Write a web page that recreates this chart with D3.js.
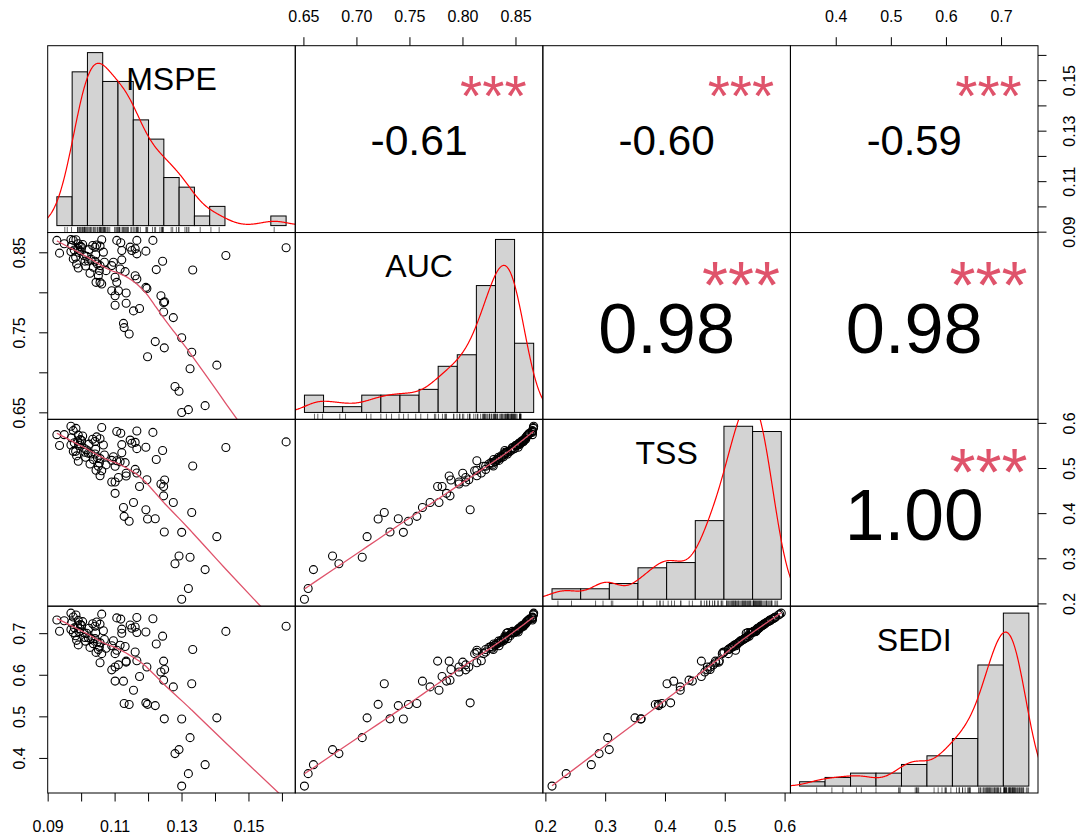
<!DOCTYPE html>
<html>
<head>
<meta charset="UTF-8">
<style>
  body { margin: 0; background: #fff; }
  svg { display: block; font-family: "Liberation Sans", Arial, Helvetica, sans-serif; }
</style>
</head>
<body>
<svg id="chart"></svg>
<script src="https://d3js.org/d3.v7.min.js"></script>
<script>
const width = 1081, height = 840;

const varNames = ["MSPE", "AUC", "TSS", "SEDI"];

// one value per model run, same order in every array
const mspe = [0.1299, 0.1319, 0.1369, 0.1291, 0.1279, 0.1324, 0.1404, 0.1197, 0.1329, 0.1247,
  0.1220, 0.1299, 0.1142, 0.1127, 0.1125, 0.1274, 0.1245, 0.1155, 0.1173, 0.1100,
  0.1133, 0.1245, 0.1248, 0.1237, 0.1100, 0.1133, 0.1090, 0.1110, 0.1192, 0.1195,
  0.1060, 0.1055, 0.1043, 0.1105, 0.1165, 0.1100,
  0.1160, 0.1050, 0.1053, 0.1073, 0.1115, 0.1223, 0.1332, 0.1055, 0.1090, 0.1095,
  0.1068, 0.1047, 0.0985, 0.1040, 0.1020, 0.1010, 0.1242, 0.1025, 0.1035, 0.1012,
  0.0990, 0.1130,
  0.1120, 0.0975, 0.1007, 0.1431, 0.1165, 0.0934, 0.1065, 0.0968, 0.1192, 0.0995,
  0.1120, 0.1150, 0.1160, 0.1000, 0.1040, 0.1145, 0.1611, 0.1055, 0.0970, 0.1033,
  0.1045, 0.1028, 0.0982, 0.1015, 0.1042, 0.0992, 0.0978, 0.1022, 0.0988, 0.0996,
  0.1003, 0.0948, 0.0990, 0.1117, 0.0926, 0.0975, 0.1105, 0.1165, 0.1213, 0.0983,
  0.1060, 0.0968];
const auc = [0.6505, 0.6540, 0.6590, 0.6770, 0.6830, 0.7050, 0.7096, 0.7200, 0.7258, 0.7312,
  0.7390, 0.7438, 0.7486, 0.7565, 0.7618, 0.7690, 0.7761, 0.7774, 0.7803, 0.7845,
  0.7870, 0.7878, 0.7887, 0.7963, 0.7963, 0.7998, 0.8026, 0.8026, 0.8068, 0.8055,
  0.8110, 0.8131, 0.8131, 0.8131, 0.8173, 0.8194,
  0.8214, 0.8214, 0.8277, 0.8277, 0.8298, 0.8290, 0.8286, 0.8340, 0.8340, 0.8382,
  0.8382, 0.8361, 0.8361, 0.8395, 0.8398, 0.8396, 0.8395, 0.8245, 0.8320, 0.8335,
  0.8310, 0.8265,
  0.8412, 0.8424, 0.8466, 0.8466, 0.8487, 0.8496, 0.8508, 0.8517, 0.8521, 0.8529,
  0.8529, 0.8529, 0.8550, 0.8571, 0.8571, 0.8571, 0.8563, 0.8584, 0.8592, 0.8592,
  0.8598, 0.8420, 0.8445, 0.8455, 0.8475, 0.8505, 0.8535, 0.8540, 0.8555, 0.8580,
  0.8603, 0.8613, 0.8613, 0.8626, 0.8655, 0.8655, 0.8655, 0.8655, 0.8655, 0.8664,
  0.8664, 0.8667];
const tss = [0.2103, 0.2340, 0.2760, 0.3060, 0.2890, 0.3035, 0.3490, 0.3880, 0.4026, 0.3594,
  0.3888, 0.3586, 0.3830, 0.3940, 0.4137, 0.4247, 0.4600, 0.4247, 0.4600, 0.4450,
  0.4835, 0.4394, 0.4747, 0.4658, 0.4700, 0.4894, 0.4700, 0.4800, 0.4086, 0.4750,
  0.4950, 0.4841, 0.4960, 0.5172, 0.4900, 0.5050,
  0.4980, 0.5050, 0.5120, 0.5080, 0.5150, 0.5200, 0.5055, 0.5220, 0.5180, 0.5260,
  0.5300, 0.5240, 0.5280, 0.5320, 0.5340, 0.5360, 0.5400, 0.5100, 0.5200, 0.5250,
  0.5160, 0.5130,
  0.5350, 0.5380, 0.5450, 0.5467, 0.5440, 0.5510, 0.5520, 0.5520, 0.5470, 0.5550,
  0.5530, 0.5560, 0.5580, 0.5620, 0.5600, 0.5630, 0.5590, 0.5660, 0.5680, 0.5650,
  0.5700, 0.5320, 0.5380, 0.5410, 0.5430, 0.5510, 0.5570, 0.5540, 0.5610, 0.5640,
  0.5720, 0.5750, 0.5740, 0.5780, 0.5750, 0.5840, 0.5820, 0.5830, 0.5800, 0.5890,
  0.5910, 0.5936];
const sedi = [0.3335, 0.3634, 0.3850, 0.4212, 0.4116, 0.4500, 0.4976, 0.5300, 0.5795, 0.4952,
  0.5270, 0.4948, 0.5296, 0.5320, 0.5858, 0.5720, 0.6340, 0.5640, 0.5970, 0.5860,
  0.6339, 0.5882, 0.6140, 0.6080, 0.6200, 0.6316, 0.6130, 0.6250, 0.5337, 0.6200,
  0.6520, 0.6300, 0.6550, 0.6600, 0.6350, 0.6520,
  0.6560, 0.6620, 0.6680, 0.6650, 0.6720, 0.6750, 0.6620, 0.6780, 0.6710, 0.6830,
  0.6860, 0.6800, 0.6840, 0.6880, 0.6900, 0.6910, 0.6940, 0.6670, 0.6760, 0.6820,
  0.6730, 0.6690,
  0.7010, 0.7030, 0.7020, 0.7055, 0.7030, 0.7060, 0.7070, 0.7100, 0.7040, 0.7120,
  0.7110, 0.7130, 0.7160, 0.7200, 0.7180, 0.7210, 0.7177, 0.7230, 0.7260, 0.7240,
  0.7280, 0.6880, 0.6950, 0.7010, 0.7020, 0.7050, 0.7140, 0.7130, 0.7190, 0.7220,
  0.7290, 0.7310, 0.7320, 0.7350, 0.7330, 0.7400, 0.7380, 0.7390, 0.7360, 0.7450,
  0.7470, 0.7495];

// upper panels, row by row: (1,2) (1,3) (1,4) (2,3) (2,4) (3,4)
const corrValues = [-0.61, -0.60, -0.59, 0.98, 0.98, 1.00];
const corrStars = ["***", "***", "***", "***", "***", "***"];

// histogram breaks
const histStart = [0.09, 0.64, 0.20, 0.30];
const histStep = [0.005, 0.02, 0.05, 0.05];
const histBins = [15, 12, 8, 9];

// axis ticks
const tickValues = [
  [0.09, 0.10, 0.11, 0.12, 0.13, 0.14, 0.15, 0.16],
  [0.65, 0.70, 0.75, 0.80, 0.85],
  [0.2, 0.3, 0.4, 0.5, 0.6],
  [0.4, 0.5, 0.6, 0.7]
];
const xTickLabels = [
  [0.09, 0.11, 0.13, 0.15],
  [0.65, 0.70, 0.75, 0.80, 0.85],
  [0.2, 0.3, 0.4, 0.5, 0.6],
  [0.4, 0.5, 0.6, 0.7]
];
const yTickLabels = [
  [0.09, 0.11, 0.13, 0.15],
  [0.65, 0.75, 0.85],
  [0.2, 0.3, 0.4, 0.5, 0.6],
  [0.4, 0.5, 0.6, 0.7]
];
const tickFormats = [".2f", ".2f", ".1f", ".1f"];

const data = [mspe, auc, tss, sedi];
const n = mspe.length;
const nv = data.length;

let svg = d3.select("#chart")
  .attr("width", width)
  .attr("height", height)
  .attr("viewBox", "0 0 " + width + " " + height);

svg.append("rect").attr("width", width).attr("height", height).attr("fill", "#fff");

const plotLeft = 47.7, plotTop = 45.7, plotRight = 1038, plotBottom = 793;
const pw = (plotRight - plotLeft) / nv, ph = (plotBottom - plotTop) / nv;

// R style 4% padding
function padded(ext) {
  const r = ext[1] - ext[0];
  return [ext[0] - 0.04 * r, ext[1] + 0.04 * r];
}

const xScales = data.map((v, j) => d3.scaleLinear()
  .domain(padded(d3.extent(v))).range([plotLeft + j * pw, plotLeft + (j + 1) * pw]));
const yScales = data.map((v, i) => d3.scaleLinear()
  .domain(padded(d3.extent(v))).range([plotTop + (i + 1) * ph, plotTop + i * ph]));

const defs = svg.append("defs");
for (let i = 0; i < nv; i++) {
  for (let j = 0; j < nv; j++) {
    defs.append("clipPath").attr("id", "clip" + i + j)
      .append("rect")
      .attr("x", plotLeft + j * pw).attr("y", plotTop + i * ph)
      .attr("width", pw).attr("height", ph);
  }
}

// lowess, port of R's clowess (f = 2/3, iter = 3)
function lowest(x, y, xs, nleft, nright, rw, userw, range) {
  const nn = x.length;
  const h = Math.max(xs - x[nleft], x[nright] - xs);
  const h9 = 0.999 * h, h1 = 0.001 * h;
  const w = new Array(nn).fill(0);
  let a = 0, j = nleft;
  while (j < nn) {
    const r = Math.abs(x[j] - xs);
    if (r <= h9) {
      w[j] = r <= h1 ? 1 : Math.pow(1 - Math.pow(r / h, 3), 3);
      if (userw) w[j] *= rw[j];
      a += w[j];
    } else if (x[j] > xs) break;
    j++;
  }
  const nrt = j - 1;
  if (a <= 0) return null;
  for (j = nleft; j <= nrt; j++) w[j] /= a;
  if (h > 0) {
    a = 0;
    for (j = nleft; j <= nrt; j++) a += w[j] * x[j];
    let b = xs - a, c = 0;
    for (j = nleft; j <= nrt; j++) c += w[j] * (x[j] - a) * (x[j] - a);
    if (Math.sqrt(c) > 0.001 * range) {
      b /= c;
      for (j = nleft; j <= nrt; j++) w[j] *= (b * (x[j] - a) + 1);
    }
  }
  let s = 0;
  for (j = nleft; j <= nrt; j++) s += w[j] * y[j];
  return s;
}

function lowess(xIn, yIn, f, iter) {
  const nn = xIn.length;
  const order = d3.range(nn).sort((a, b) => xIn[a] - xIn[b]);
  const x = order.map(k => xIn[k]), y = order.map(k => yIn[k]);
  const ys = new Array(nn).fill(0);
  let rw = new Array(nn).fill(1);
  const ns = Math.max(2, Math.min(nn, Math.floor(f * nn + 1e-7)));
  const range = x[nn - 1] - x[0];
  for (let it = 0; it <= iter; it++) {
    let nleft = 0, nright = ns - 1;
    for (let k = 0; k < nn; k++) {
      while (nright < nn - 1 && x[k] - x[nleft] > x[nright + 1] - x[k]) {
        nleft++; nright++;
      }
      const v = lowest(x, y, x[k], nleft, nright, rw, it > 0, range);
      ys[k] = v === null ? y[k] : v;
    }
    if (it === iter) break;
    const absRes = y.map((yv, k) => Math.abs(yv - ys[k]));
    const cmad = 6 * d3.median(absRes);
    if (cmad < 1e-7 * d3.mean(absRes)) break;
    const c9 = 0.999 * cmad, c1 = 0.001 * cmad;
    rw = absRes.map(r => r <= c1 ? 1 : r <= c9 ? Math.pow(1 - Math.pow(r / cmad, 2), 2) : 0);
  }
  return x.map((xv, k) => [xv, ys[k]]);
}

// gaussian kernel density, bw.nrd0 like R's density()
function kde(values) {
  const sorted = values.slice().sort(d3.ascending);
  const sd = d3.deviation(values);
  const iqr = d3.quantileSorted(sorted, 0.75) - d3.quantileSorted(sorted, 0.25);
  const bw = 0.9 * Math.min(sd, iqr / 1.34) * Math.pow(values.length, -0.2);
  const lo = sorted[0] - 3 * bw, hi = sorted[sorted.length - 1] + 3 * bw;
  return d3.range(512).map(k => {
    const x = lo + (hi - lo) * k / 511;
    const dens = d3.mean(values, v => Math.exp(-0.5 * ((x - v) / bw) ** 2)) / (bw * Math.sqrt(2 * Math.PI));
    return [x, dens];
  });
}

const panels = svg.append("g");

// diagonal: histogram + density + rug + name
for (let k = 0; k < nv; k++) {
  const v = data[k];
  const x0 = plotLeft + k * pw, y0 = plotTop + k * ph;
  const breaks = d3.range(histBins[k] + 1).map(b => histStart[k] + b * histStep[k]);
  const counts = new Array(histBins[k]).fill(0);
  v.forEach(val => {
    for (let b = 0; b < histBins[k]; b++) {
      if (val <= breaks[b + 1] + 1e-12 && (val > breaks[b] + 1e-12 || b === 0)) { counts[b]++; break; }
    }
  });
  const dens = counts.map(c => c / (n * histStep[k]));
  const hx = d3.scaleLinear().domain(padded([breaks[0], breaks[breaks.length - 1]])).range([x0, x0 + pw]);
  const hy = d3.scaleLinear().domain(padded([0, d3.max(dens)])).range([y0 + ph, y0]);

  const g = panels.append("g").attr("clip-path", "url(#clip" + k + k + ")");
  g.selectAll("rect.bar")
    .data(dens)
    .enter()
    .append("rect")
    .attr("class", "bar")
    .attr("x", (d, b) => hx(breaks[b]))
    .attr("width", (d, b) => hx(breaks[b + 1]) - hx(breaks[b]))
    .attr("y", d => hy(d))
    .attr("height", d => hy(0) - hy(d))
    .attr("fill", "#D3D3D3")
    .attr("stroke", "#000")
    .attr("stroke-width", 1);

  g.append("path")
    .datum(kde(v))
    .attr("d", d3.line().x(d => hx(d[0])).y(d => hy(d[1])))
    .attr("fill", "none")
    .attr("stroke", "#FF0000")
    .attr("stroke-width", 1.2);

  g.selectAll("line.rug")
    .data(v)
    .enter()
    .append("line")
    .attr("class", "rug")
    .attr("x1", d => hx(d)).attr("x2", d => hx(d))
    .attr("y1", y0 + ph).attr("y2", y0 + ph - 0.03 * ph)
    .attr("stroke", "#000")
    .attr("stroke-width", 0.6);

  panels.append("text")
    .attr("x", x0 + pw / 2)
    .attr("y", y0 + 0.176 * ph + 0.358 * 32)
    .attr("text-anchor", "middle")
    .style("font-size", "32px")
    .text(varNames[k]);
}

// lower panels: scatter + lowess
for (let i = 0; i < nv; i++) {
  for (let j = 0; j < i; j++) {
    const xs = xScales[j], ys = yScales[i];
    const g = panels.append("g").attr("clip-path", "url(#clip" + i + j + ")");
    g.selectAll("circle")
      .data(d3.range(n))
      .enter()
      .append("circle")
      .attr("cx", d => xs(data[j][d]))
      .attr("cy", d => ys(data[i][d]))
      .attr("r", 4)
      .attr("fill", "none")
      .attr("stroke", "#000")
      .attr("stroke-width", 1.1);
    g.append("path")
      .datum(lowess(data[j], data[i], 2 / 3, 3))
      .attr("d", d3.line().x(d => xs(d[0])).y(d => ys(d[1])))
      .attr("fill", "none")
      .attr("stroke", "#DF536B")
      .attr("stroke-width", 1.3);
  }
}

// upper panels: correlation + stars
let c = 0;
for (let i = 0; i < nv; i++) {
  for (let j = i + 1; j < nv; j++) {
    const r = corrValues[c], stars = corrStars[c];
    c++;
    const x0 = plotLeft + j * pw, y0 = plotTop + i * ph;
    const txt = r.toFixed(2);
    const probe = svg.append("text").style("font-size", "100px").text(txt);
    const len100 = probe.node().getComputedTextLength();
    probe.remove();
    const base = 100 * 139 / len100;
    const fsNum = base * (Math.abs(r) + 0.3) / 1.3;
    const fsStar = base * 0.935;
    panels.append("text")
      .attr("x", x0 + pw / 2)
      .attr("y", y0 + ph / 2 + 0.38 * fsNum)
      .attr("text-anchor", "middle")
      .style("font-size", fsNum + "px")
      .text(txt);
    panels.append("text")
      .attr("x", x0 + 0.8 * pw)
      .attr("y", y0 + 0.2 * ph + 0.575 * fsStar)
      .attr("text-anchor", "middle")
      .attr("fill", "#DF536B")
      .style("font-size", fsStar + "px")
      .text(stars);
  }
}

// panel boxes
for (let i = 0; i < nv; i++) {
  for (let j = 0; j < nv; j++) {
    svg.append("rect")
      .attr("x", plotLeft + j * pw).attr("y", plotTop + i * ph)
      .attr("width", pw).attr("height", ph)
      .attr("fill", "none").attr("stroke", "#000").attr("stroke-width", 1);
  }
}

// axes
const tickLen = 8.5;
const axes = svg.append("g").style("font-size", "16px");
for (let k = 0; k < nv; k++) {
  const fmt = d3.format(tickFormats[k]);
  // x axis: bottom for odd columns (1, 3), top for even ones
  const xs = xScales[k];
  const onBottom = k % 2 === 0;
  const yLine = onBottom ? plotBottom : plotTop;
  const dir = onBottom ? 1 : -1;
  axes.selectAll(null)
    .data(tickValues[k])
    .enter()
    .append("line")
    .attr("x1", d => xs(d)).attr("x2", d => xs(d))
    .attr("y1", yLine).attr("y2", yLine + dir * tickLen)
    .attr("stroke", "#000").attr("stroke-width", 1);
  axes.selectAll(null)
    .data(xTickLabels[k])
    .enter()
    .append("text")
    .attr("x", d => xs(d))
    .attr("y", onBottom ? 832 : 22)
    .attr("text-anchor", "middle")
    .text(d => fmt(d));

  // y axis: left for even rows (2, 4), right for odd ones
  const ys = yScales[k];
  const onLeft = k % 2 === 1;
  const xLine = onLeft ? plotLeft : plotRight;
  const xdir = onLeft ? -1 : 1;
  axes.selectAll(null)
    .data(tickValues[k])
    .enter()
    .append("line")
    .attr("x1", xLine).attr("x2", xLine + xdir * tickLen)
    .attr("y1", d => ys(d)).attr("y2", d => ys(d))
    .attr("stroke", "#000").attr("stroke-width", 1);
  axes.selectAll(null)
    .data(yTickLabels[k])
    .enter()
    .append("text")
    .attr("transform", d => "translate(" + (onLeft ? 25 : 1074.5) + "," + ys(d) + ") rotate(-90)")
    .attr("text-anchor", "middle")
    .text(d => fmt(d));
}
</script>
</body>
</html>
